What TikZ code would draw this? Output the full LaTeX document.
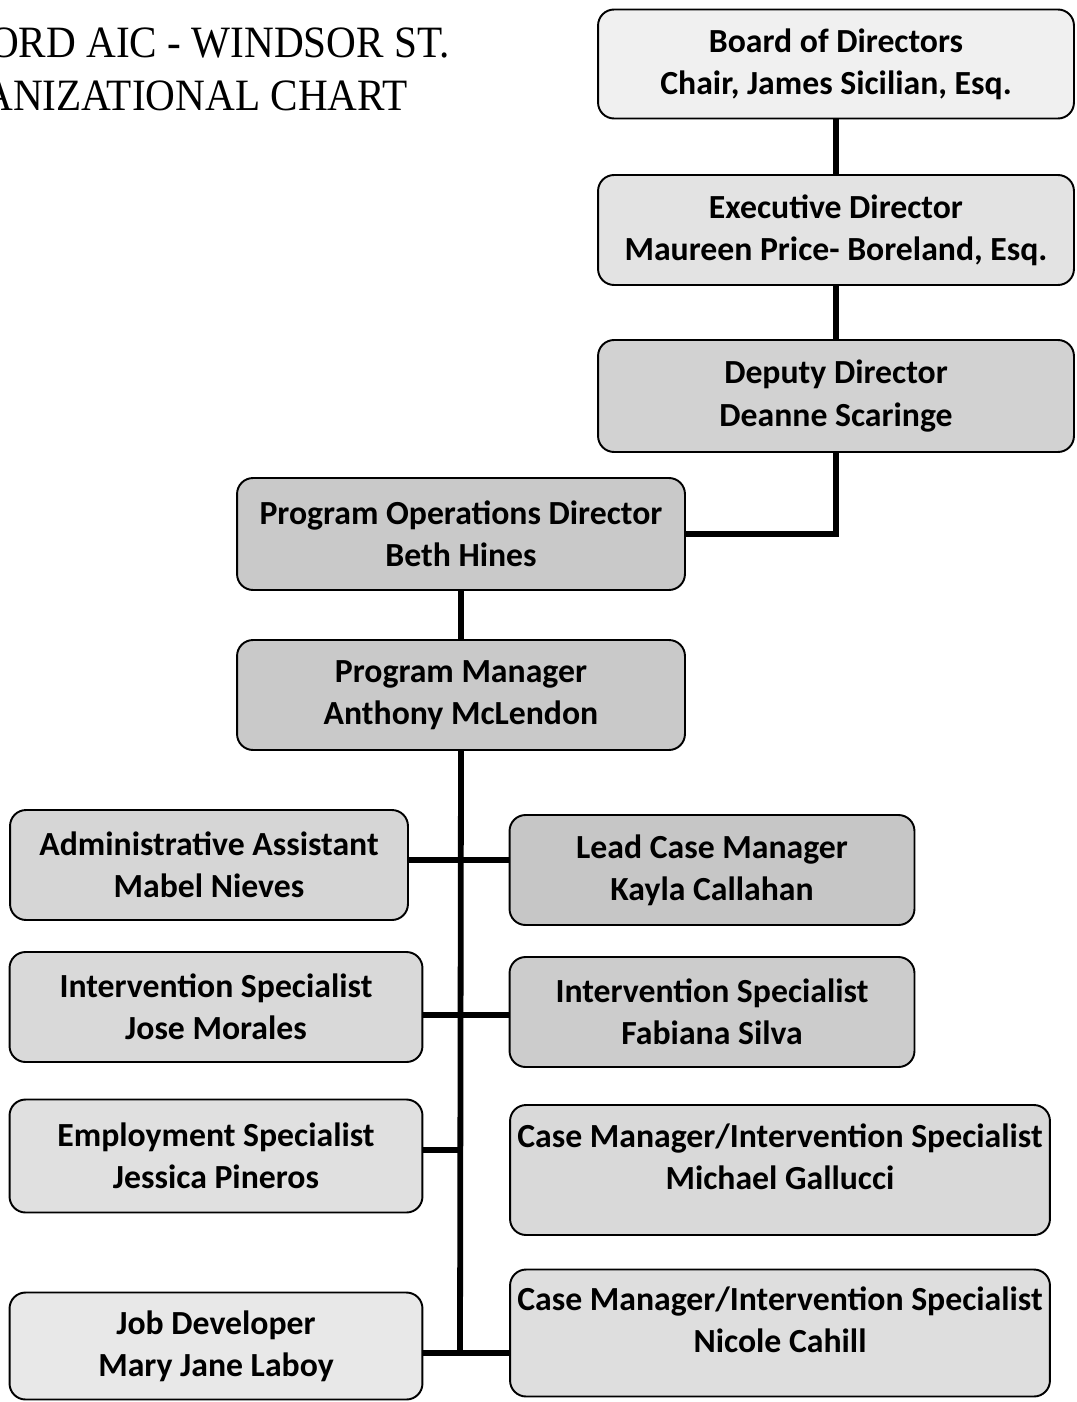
\documentclass[tikz,border=0pt]{standalone}
\usepackage{fontspec}
\setmainfont{Carlito}
\newfontfamily\titlefont[FakeStretch=0.92]{Liberation Serif}
\usepackage{tikz}

\tikzset{
  staffbox/.style={draw, line width=1.1pt, rounded corners=0.32cm, align=center,
    font=\fontsize{19.2}{24}\selectfont\bfseries, inner sep=0pt},
  link/.style={line width=3.3pt}
}

\begin{document}
\begin{tikzpicture}[x=0.02cm, y=-0.02cm]
      \clip (0,0) rectangle (1076,1402);
      \fill[white] (0,0) rectangle (1076,1402);

      % Title (cut at the left edge)
      \node[anchor=base east, font=\titlefont\fontsize{25.5}{30}\selectfont] (title1) at (456,58) {ORD AIC - WINDSOR ST.};
      \node[anchor=base east, font=\titlefont\fontsize{25.5}{30}\selectfont] (title2) at (414,111) {ANIZATIONAL CHART};

      % Define coordinates
      \coordinate (j1) at (460,860);
      \coordinate (j2) at (460,1015);
      \coordinate (j3) at (460,1150);
      \coordinate (j4) at (460,1353);

      % Draw the upper chain
      \node[staffbox, fill=gray!12, minimum width=9.52cm, minimum height=2.18cm] (board) at (836,64) {Board of Directors\\Chair, James Sicilian, Esq.};
      \node[staffbox, fill=gray!22, minimum width=9.52cm, minimum height=2.2cm] (exec) at (836,230) {Executive Director\\Maureen Price- Boreland, Esq.};
      \node[staffbox, fill=gray!35, minimum width=9.52cm, minimum height=2.24cm] (deputy) at (836,396) {Deputy Director\\Deanne Scaringe};
      \node[staffbox, fill=gray!42, minimum width=8.96cm, minimum height=2.24cm] (pod) at (461,534) {Program Operations Director\\Beth Hines};
      \node[staffbox, fill=gray!42, minimum width=8.96cm, minimum height=2.2cm] (pm) at (461,695) {Program Manager\\Anthony McLendon};

      % Draw the staff on the left
      \node[staffbox, fill=gray!32, minimum width=7.96cm, minimum height=2.2cm] (admin) at (209,865) {Administrative Assistant\\Mabel Nieves};
      \node[staffbox, fill=gray!30, minimum width=8.26cm, minimum height=2.2cm] (jose) at (216,1007) {Intervention Specialist\\Jose Morales};
      \node[staffbox, fill=gray!24, minimum width=8.26cm, minimum height=2.26cm] (jessica) at (216,1156) {Employment Specialist\\Jessica Pineros};
      \node[staffbox, fill=gray!18, minimum width=8.26cm, minimum height=2.14cm] (jobdev) at (216,1346) {Job Developer\\Mary Jane Laboy};

      % Draw the staff on the right (text sits high in the tall boxes)
      \node[staffbox, fill=gray!45, minimum width=8.1cm, minimum height=2.2cm] (lead) at (712,870) {Lead Case Manager\\Kayla Callahan};
      \node[staffbox, fill=gray!40, minimum width=8.1cm, minimum height=2.2cm] (fabiana) at (712,1012) {Intervention Specialist\\Fabiana Silva};
      \node[staffbox, fill=gray!30, minimum width=10.8cm, minimum height=2.6cm] (michael) at (780,1170) {Case Manager/Intervention Specialist\\Michael Gallucci\\[-0.3cm]\mbox{}};
      \node[staffbox, fill=gray!26, minimum width=10.8cm, minimum height=2.54cm] (nicole) at (780,1333) {Case Manager/Intervention Specialist\\Nicole Cahill\\[-0.3cm]\mbox{}};

      % Draw the links
      \draw[link] (board) -- (exec);
      \draw[link] (exec) -- (deputy);
      \draw[link] (deputy.south) |- (pod.east);
      \draw[link] (pod) -- (pm);
      \draw[link] (pm.south) -- (j4);
      \draw[link] (admin.east |- j1) -- (lead.west |- j1);
      \draw[link] (jose.east |- j2) -- (fabiana.west |- j2);
      \draw[link] (jessica.east |- j3) -- (j3);
      \draw[link] (jobdev.east |- j4) -- (nicole.west |- j4);
    \end{tikzpicture}
\end{document}
